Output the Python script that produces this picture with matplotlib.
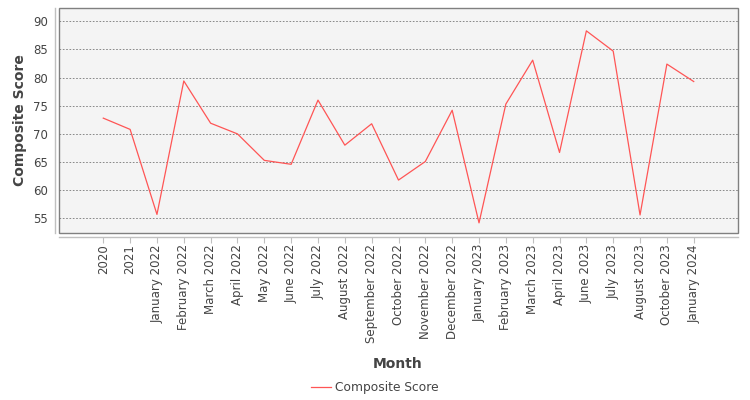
import matplotlib
matplotlib.use("Agg")
import matplotlib.pyplot as plt

categories = ["2020", "2021", "January 2022", "February 2022", "March 2022", "April 2022",
              "May 2022", "June 2022", "July 2022", "August 2022", "September 2022",
              "October 2022", "November 2022", "December 2022", "January 2023",
              "February 2023", "March 2023", "April 2023", "June 2023", "July 2023",
              "August 2023", "October 2023", "January 2024"]
composite_score = [72.8, 70.8, 55.7, 79.4, 71.9, 70.0, 65.3, 64.6, 76.0, 68.0, 71.8,
                   61.8, 65.1, 74.2, 54.2, 75.3, 83.1, 66.7, 88.3, 84.7, 55.6, 82.4, 79.3]
y_ticks = [55, 60, 65, 70, 75, 80, 85, 90]

W, H = 750, 400
fig = plt.figure(figsize=(7.5, 4.0), dpi=100)
fig.patch.set_facecolor("white")
left, right, top, bottom = 59, 738, 8, 233
ax = fig.add_axes([left / W, 1 - bottom / H, (right - left) / W, (bottom - top) / H])

for s in ["top", "right"]:
    ax.spines[s].set_visible(False)
for s in ["left", "bottom"]:
    ax.spines[s].set_position(("outward", 3))
    ax.spines[s].set_color("#c0c0c0")
    ax.spines[s].set_linewidth(1.0)

ax.patch.set_facecolor("#f4f4f4")
ax.patch.set_edgecolor("#808080")
ax.patch.set_linewidth(1.0)

x = list(range(len(categories)))
ax.plot(x, composite_score, color="#ff5555", linewidth=0.9, label="Composite Score", zorder=3)

ax.set_xlim(-1.65, len(categories) - 1 + 1.65)
ax.set_ylim(52.4, 92.36)
ax.set_xticks(x)
ax.set_xticklabels(categories, rotation=90, fontsize=8.5, color="#444444")
ax.set_yticks(y_ticks)
ax.set_yticklabels([str(v) for v in y_ticks], fontsize=8.5, color="#444444")

ax.grid(axis="y", color="#777777", linestyle=(0, (2, 2)), linewidth=0.6)
ax.set_axisbelow(True)

ax.tick_params(axis="x", length=4, width=0.8, color="#c0c0c0", pad=1)
ax.tick_params(axis="y", length=0, pad=5)

fig.text(20 / W, 1 - 120 / H, "Composite Score", rotation=90, ha="center", va="center",
         fontsize=10, fontweight="bold", color="#444444")
fig.text(398 / W, 1 - 364 / H, "Month", ha="center", va="center",
         fontsize=10, fontweight="bold", color="#444444")

leg = fig.legend(loc="center", bbox_to_anchor=(0.5, 1 - 388 / H), frameon=False,
                 fontsize=8.8, handlelength=1.6, handletextpad=0.4, labelcolor="#444444")

fig.savefig("out.png", dpi=100, facecolor="white")
